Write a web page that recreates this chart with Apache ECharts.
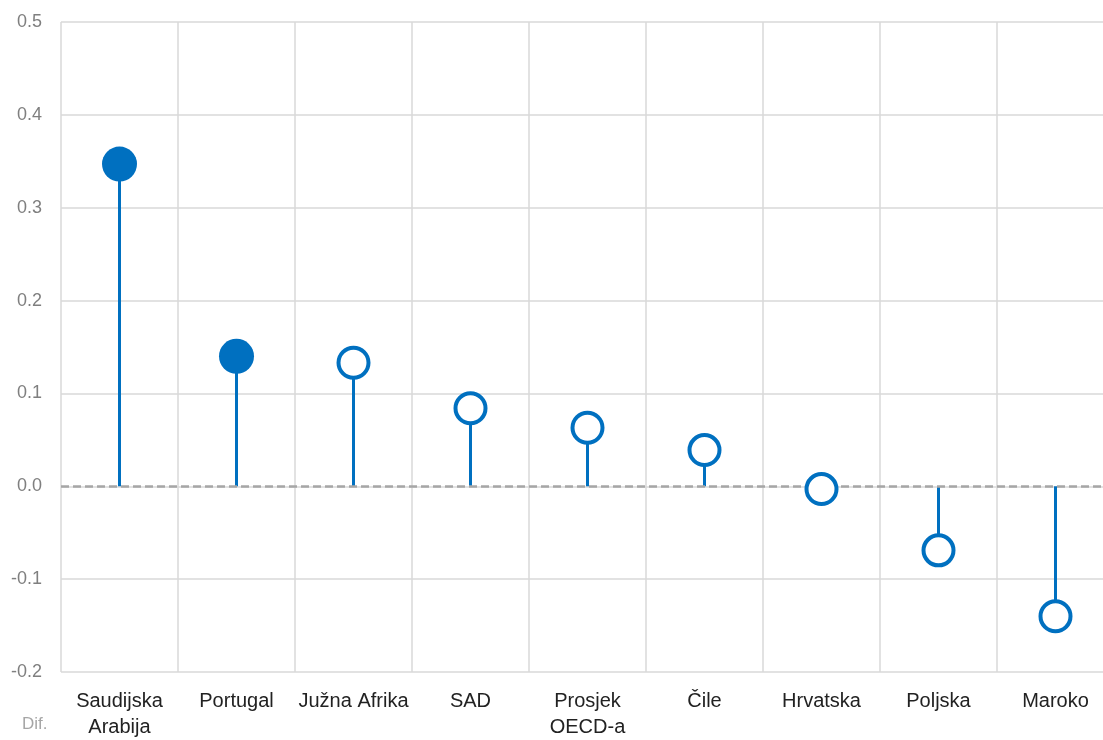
<!DOCTYPE html>
<html>
<head>
<meta charset="utf-8">
<script src="https://cdn.jsdelivr.net/npm/echarts@6/dist/echarts.min.js"></script>
<style>
html,body{margin:0;padding:0;background:#fff;}
#chart{width:1103px;height:740px;}
</style>
</head>
<body>
<div id="chart"></div>
<script>
const categories = ["Saudijska\nArabija", "Portugal", "Južna Afrika", "SAD", "Prosjek\nOECD-a", "Čile", "Hrvatska", "Poljska", "Maroko"];
const values = [0.347, 0.140, 0.133, 0.084, 0.063, 0.039, -0.003, -0.069, -0.140];
const significant = [true, true, false, false, false, false, false, false, false];
const yTicks = { min: -0.2, max: 0.5, interval: 0.1 };
const yAxisTitle = "Dif.";

const blue = "#0070C0";
const chart = echarts.init(document.getElementById('chart'));
const font = "'Liberation Sans', Arial, sans-serif";

chart.setOption({
  animation: false,
  grid: { left: 61, top: 22, width: 1053, height: 650, containLabel: false, outerBoundsMode: 'none' },
  xAxis: {
    type: 'category',
    data: categories,
    boundaryGap: true,
    axisLine: { show: false },
    axisTick: { show: false },
    splitLine: { show: true, lineStyle: { color: '#D9D9D9', width: 1.5 } },
    axisLabel: { color: '#222', fontSize: 20, fontFamily: font, margin: 16, interval: 0, lineHeight: 26 }
  },
  yAxis: {
    type: 'value',
    min: yTicks.min, max: yTicks.max, interval: yTicks.interval,
    axisLine: { show: false },
    axisTick: { show: false },
    splitLine: { show: true, lineStyle: { color: '#D9D9D9', width: 1.5 } },
    axisLabel: { color: '#7F7F7F', fontSize: 18, fontFamily: font, margin: 19,
      formatter: v => v.toFixed(1) }
  },
  graphic: [{
    type: 'text', left: 22, top: 716,
    style: { text: yAxisTitle, fill: '#A6A6A6', font: "17px " + font }
  }],
  series: [
    {
      type: 'bar',
      data: values,
      barWidth: 3,
      itemStyle: { color: blue },
      z: 2,
      markLine: {
        silent: true, symbol: 'none', z: 3,
        label: { show: false },
        lineStyle: { color: '#A6A6A6', type: [8, 4], width: 2.5 },
        data: [{ yAxis: 0 }]
      }
    },
    {
      type: 'scatter',
      z: 5,
      itemStyle: { opacity: 1 },
      data: values.map((v, i) => significant[i]
        ? { value: v, symbolSize: 35, itemStyle: { color: blue, borderWidth: 0, opacity: 1 } }
        : { value: v, symbolSize: 30, itemStyle: { color: '#fff', borderColor: blue, borderWidth: 4, opacity: 1 } })
    }
  ]
});
</script>
</body>
</html>
